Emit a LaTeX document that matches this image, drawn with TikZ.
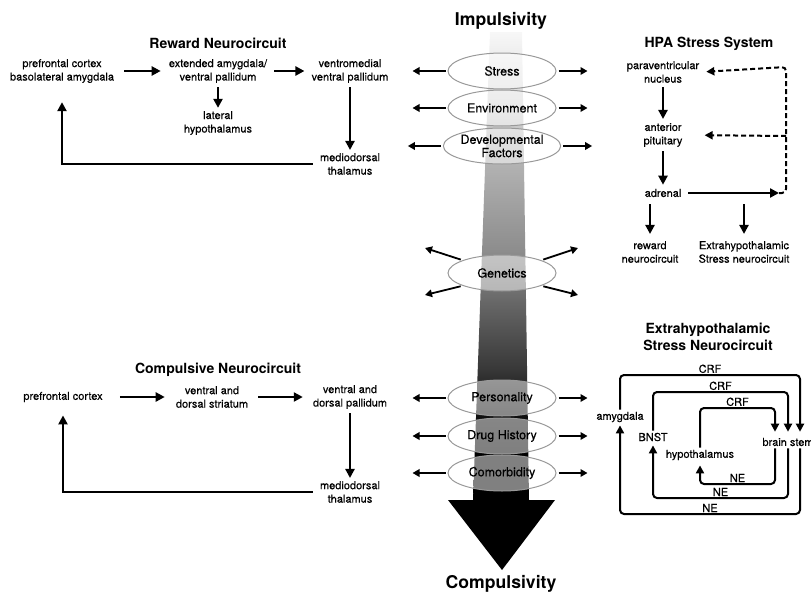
\documentclass[tikz,border=0pt]{standalone}
\usepackage{fontspec}
\setmainfont{TeX Gyre Heros}
\newfontfamily\lblfont{TeX Gyre Heros}[FakeBold=0.4]
\usetikzlibrary{arrows.meta,shapes.geometric}
\pgfdeclareverticalshading{shaftfade}{100bp}{color(0bp)=(black); color(30bp)=(black); color(33.5bp)=(black!95); color(37bp)=(black!85); color(39bp)=(black!78); color(46bp)=(black!60); color(51.5bp)=(black!45); color(61bp)=(black!30); color(67.5bp)=(black!15); color(75bp)=(black!3); color(100bp)=(black!3)}

\begin{document}
\begin{tikzpicture}[x=1pt, y=-1pt,
	lbl/.style = {align=center, inner sep=2pt, font=\lblfont\fontsize{11}{13.5}\selectfont},
	ttl/.style = {align=center, inner sep=1pt, font=\fontsize{14}{17}\selectfont\bfseries},
	big/.style = {inner sep=1pt, font=\fontsize{17.6}{20}\selectfont\bfseries},
	factor/.style = {draw=black!40, line width=1pt, ellipse, minimum width=108pt, minimum height=36pt, inner sep=0pt, fill=white, fill opacity=0.5, text opacity=1, align=center, font=\lblfont\fontsize{12.5}{13.3}\selectfont},
	link/.style = {line width=2.3pt, -{Triangle[length=9pt, width=9pt]}, shorten <=5pt, shorten >=5pt},
	side/.style = {line width=1.8pt, -{Triangle[length=7pt, width=7.5pt]}},
	loopline/.style = {line width=2pt, rounded corners=4pt, -{Triangle[length=8pt, width=8pt]}},
	fb/.style = {line width=2pt, dash pattern=on 5pt off 3pt, -{Triangle[length=8pt, width=8pt]}}]
	\useasboundingbox (0,0) rectangle (811,597);
	
	% central arrow
	\shade[shading=shaftfade] (490,32) -- (522,32) -- (529,500) -- (473,500) -- cycle;
	\fill[black] (448,500) -- (555,500) -- (502,570) -- cycle;
	\node[big] (impuls) at (501,21) {Impulsivity};
	\node[big] (compuls) at (501,584) {Compulsivity};
	
	\node[factor] (stress) at (502,71) {Stress};
	\node[factor] (env) at (502,108) {Environment};
	\node[factor] (dev) at (502,146) {Developmental\\Factors};
	\node[factor] (gen) at (502,273) {Genetics};
	\node[factor] (pers) at (502,398) {Personality};
	\node[factor] (drug) at (502,436) {Drug History};
	\node[factor] (comor) at (502,473) {Comorbidity};
	
	\foreach \f in {stress,env,dev,pers,drug,comor}{
		\coordinate (\f-l) at ([xshift=-35pt]\f.west);
		\coordinate (\f-r) at ([xshift=31pt]\f.east);
		\draw[side, shorten <=2pt] (\f.west) -- (\f-l);
		\draw[side, shorten <=2pt] (\f.east) -- (\f-r);
	}
	\coordinate (gen-ul) at (425,248);
	\coordinate (gen-ll) at (425,295);
	\coordinate (gen-ur) at (578,248);
	\coordinate (gen-lr) at (578,295);
	\draw[side, shorten <=2pt] (gen.162) -- (gen-ul);
	\draw[side, shorten <=2pt] (gen.198) -- (gen-ll);
	\draw[side, shorten <=2pt] (gen.18) -- (gen-ur);
	\draw[side, shorten <=2pt] (gen.342) -- (gen-lr);
	
	% reward neurocircuit
	\node[ttl] (rwtitle) at (218,43.5) {Reward Neurocircuit};
	\node[lbl] (pfc) at (62,71) {prefrontal cortex\\basolateral amygdala};
	\node[lbl] (extamy) at (218,71) {extended amygdala/\\ventral pallidum};
	\node[lbl] (vmvp) at (350,71) {ventromedial\\ventral pallidum};
	\node[lbl] (lh) at (218,123) {lateral\\hypothalamus};
	\node[lbl] (mdt) at (350,164) {mediodorsal\\thalamus};
	\draw[link, shorten <=8pt, shorten >=6pt] (pfc) -- (extamy);
	\draw[link] (extamy) -- (vmvp);
	\draw[link, shorten <=2pt, shorten >=1pt] (extamy) -- (lh);
	\draw[link, shorten <=2pt, shorten >=1pt] (vmvp) -- (mdt);
	\draw[link, shorten >=17pt] (mdt.west) -| (pfc.south);
	
	% compulsive neurocircuit
	\node[ttl] (cptitle) at (218,370) {Compulsive Neurocircuit};
	\node[lbl] (pfc2) at (63,397) {prefrontal cortex};
	\node[lbl] (vds) at (212,397) {ventral and\\dorsal striatum};
	\node[lbl] (vdp) at (350,397) {ventral and\\dorsal pallidum};
	\node[lbl] (mdt2) at (350,492) {mediodorsal\\thalamus};
	\draw[link, shorten <=15pt, shorten >=9pt] (pfc2) -- (vds);
	\draw[link, shorten <=8pt, shorten >=8pt] (vds) -- (vdp);
	\draw[link, shorten <=2pt, shorten >=1pt] (vdp) -- (mdt2);
	\draw[link, shorten >=11pt] (mdt2.west) -| (pfc2.south);
	
	% HPA stress system
	\node[ttl] (hpatitle) at (709,44) {HPA Stress System};
	\node[lbl] (pvn) at (663,72) {paraventricular\\nucleus};
	\node[lbl] (ap) at (663,135) {anterior\\pituitary};
	\node[lbl] (adr) at (663,193) {adrenal};
	\node[lbl] (rwd) at (650,252) {reward\\neurocircuit};
	\node[lbl] (ehs) at (744,252) {Extrahypothalamic\\Stress neurocircuit};
	\coordinate (adrtip) at (779,193);
	\coordinate (fbtop) at (786,67);
	\coordinate (fbmid) at (786,136);
	\draw[link, shorten <=2pt, shorten >=2pt] (pvn) -- (ap);
	\draw[link, shorten <=2pt, shorten >=2pt] (ap) -- (adr);
	\draw[link, shorten >=0pt] (adr.east) -- (adrtip);
	\draw[link] (rwd.north |- adr.south) -- (rwd.north);
	\draw[link] (ehs.north |- adr.south) -- (ehs.north);
	\draw[fb, rounded corners=4pt, shorten >=5pt] (adrtip) -| (fbtop) -- (pvn.east);
	\draw[fb, shorten >=20pt] (fbmid) -- (ap.east);
	
	% extrahypothalamic stress neurocircuit
	\node[ttl] (ehtitle) at (708,337) {Extrahypothalamic\\Stress Neurocircuit};
	\node[lbl] (amyg) at (620,417) {amygdala};
	\node[lbl] (bnst) at (653,437) {BNST};
	\node[lbl] (hypo) at (700,455) {hypothalamus};
	\node[lbl] (bstem) at (788,442) {brain stem};
	\draw[loopline, shorten >=4pt] (amyg.north) |- node[pos=0.75, above, lbl, inner sep=1pt] {CRF} (800,375) -- ([xshift=12pt]bstem.north);
	\draw[loopline, shorten >=4pt] (bnst.north) |- node[pos=0.75, above, lbl, inner sep=1pt] {CRF} (788,392) -- (bstem.north);
	\draw[loopline, shorten >=4pt] (hypo.north) |- node[pos=0.75, above, lbl, inner sep=1pt] {CRF} (775,408) -- ([xshift=-13pt]bstem.north);
	\draw[loopline, shorten >=3pt] ([xshift=-13pt]bstem.south) |- node[pos=0.75, above, lbl, inner sep=1pt] {NE} (700,484) -- (hypo.south);
	\draw[loopline, shorten >=2pt] (bstem.south) |- node[pos=0.75, above, lbl, inner sep=1pt] {NE} (653,498) -- (bnst.south);
	\draw[loopline, shorten >=1pt] ([xshift=12pt]bstem.south) |- node[pos=0.75, above, lbl, inner sep=1pt] {NE} (620,514) -- (amyg.south);
\end{tikzpicture}
\end{document}
